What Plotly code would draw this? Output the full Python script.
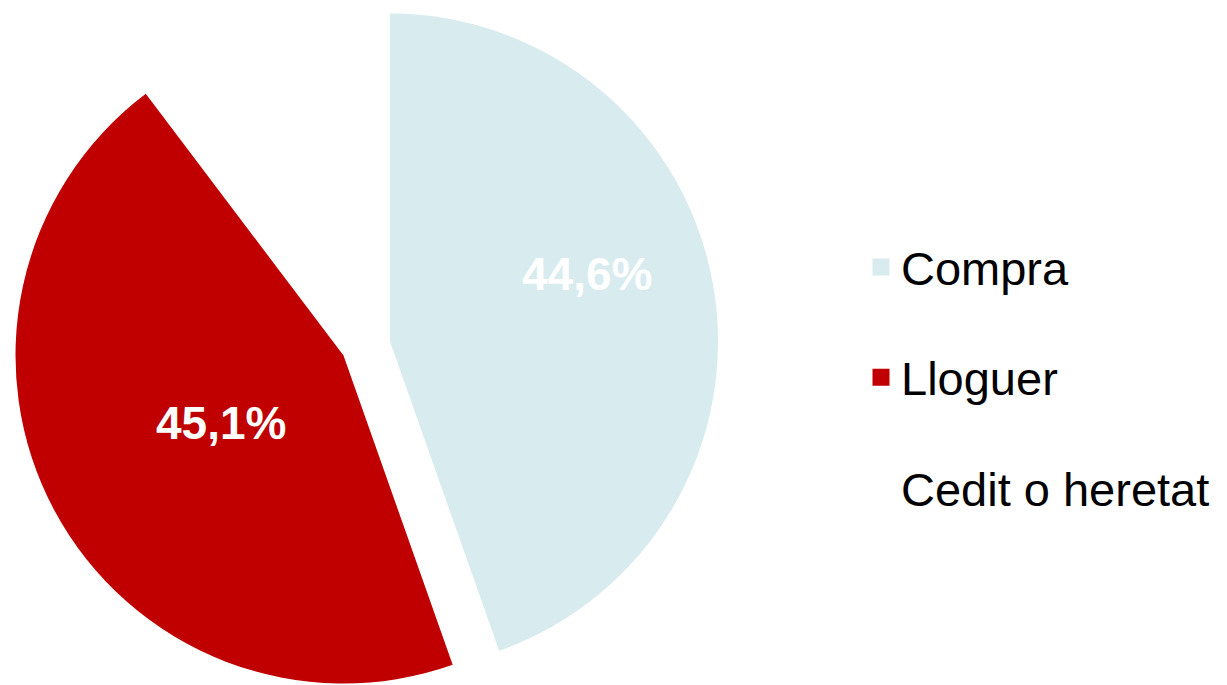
import plotly.graph_objects as go

# ---- data ----
labels = ["Compra", "Lloguer", "Cedit o heretat"]
values = [44.6, 45.1, 10.3]
colors = ["#D8EBEF", "#C00000", "#FFFFFF"]

W, H = 1227, 685
OFF = 8  # page body margin offset of the figure inside the browser window
FONT = "Liberation Sans, Arial, sans-serif"

def fmt(v):
    return f"{v:.1f}".replace(".", ",") + "%"

def px(x):
    return (x - OFF) / W

def py(y):
    return 1 - (y - OFF) / H

def dom(cx, cy, r):
    # screen-pixel centre/radius -> paper domain
    return dict(x=[px(cx - r), px(cx + r)], y=[py(cy + r), py(cy - r)])

R = 328
fig = go.Figure()

# legend-only pies (one per label, separate groups so spacing can be set);
# they are tiny and hidden underneath the main pie
for i, (lab, val, col) in enumerate(zip(labels, values, colors)):
    fig.add_trace(go.Pie(
        labels=[lab], values=[val], sort=False,
        marker=dict(colors=[col], line=dict(color=col, width=10)),
        domain=dom(560, 400, 1), textinfo="none", hoverinfo="skip",
        legendgroup=f"g{i}", showlegend=True,
    ))

# main pie (Compra + Cedit, Lloguer left empty)
fig.add_trace(go.Pie(
    labels=labels, values=values, sort=False, direction="clockwise", rotation=0,
    marker=dict(colors=[colors[0], "rgba(0,0,0,0)", colors[2]], line=dict(width=0)),
    domain=dom(390, 341.5, R), textinfo="none", hoverinfo="label+percent",
    showlegend=False,
))

# exploded slice (Lloguer)
fig.add_trace(go.Pie(
    labels=labels, values=values, sort=False, direction="clockwise", rotation=0,
    marker=dict(colors=["rgba(0,0,0,0)", colors[1], "rgba(0,0,0,0)"], line=dict(width=0)),
    domain=dom(343.5, 355.5, R), textinfo="none", hoverinfo="label+percent",
    showlegend=False,
))

label_pos = [(586.5, 274), (221, 422.5)]
for (lx, ly), v in zip(label_pos, values[:2]):
    fig.add_annotation(
        x=px(lx), y=py(ly), xref="paper", yref="paper",
        xanchor="center", yanchor="middle",
        text=fmt(v), showarrow=False,
        font=dict(family=FONT, size=46, color="white", weight="bold"),
    )

fig.update_layout(
    width=W, height=H,
    margin=dict(l=0, r=0, t=0, b=0),
    paper_bgcolor="white", plot_bgcolor="white",
    legend=dict(
        x=px(853 + OFF), y=py(222 + OFF), xanchor="left", yanchor="top",
        font=dict(family=FONT, size=47, color="black"),
        traceorder="grouped", tracegroupgap=46,
        bgcolor="rgba(0,0,0,0)",
    ),
)

fig.write_html("out.html")
